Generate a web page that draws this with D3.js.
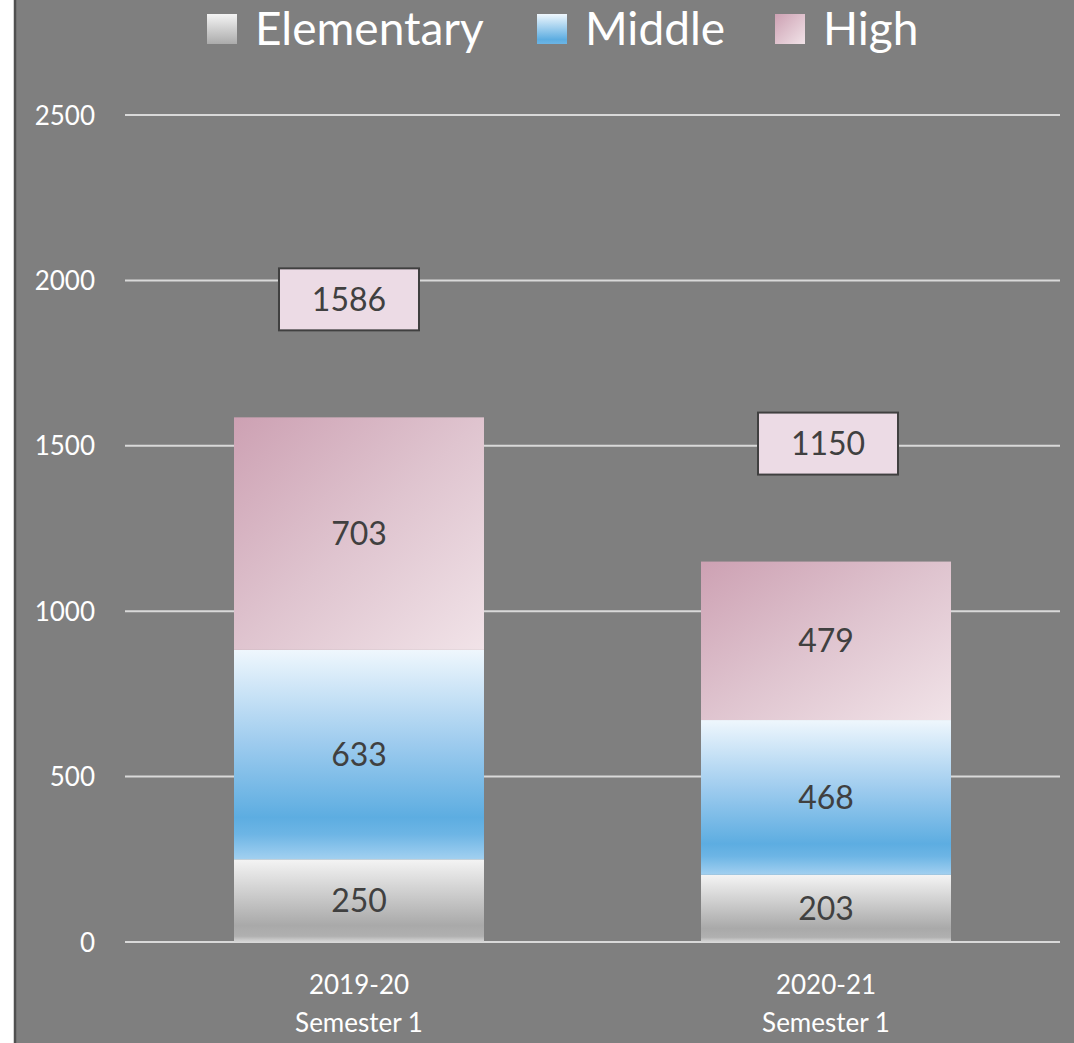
<!DOCTYPE html>
<html><head><meta charset="utf-8">
<script src="https://cdn.jsdelivr.net/npm/d3@7/dist/d3.min.js"></script>
<style>html,body{margin:0;padding:0;background:#fff;}svg{display:block;}</style>
</head><body>
<script>
const categories = [["2019-20","Semester 1"],["2020-21","Semester 1"]];
const seriesNames = ["Elementary","Middle","High"];
const elementary = [250, 203];
const middle = [633, 468];
const high = [703, 479];
const totals = [1586, 1150];
const yTicks = [0, 500, 1000, 1500, 2000, 2500];

const W = 1074, H = 1043;
const svg = d3.select("body").append("svg").attr("width", W).attr("height", H);
const font = "Lato, 'Open Sans', sans-serif";

// background
svg.append("rect").attr("x", 14).attr("y", 0).attr("width", W - 14).attr("height", H).attr("fill", "#7f7f7f");
svg.append("line").attr("x1", 15).attr("x2", 15).attr("y1", 0).attr("y2", H).attr("stroke", "#505050").attr("stroke-width", 2.5);

const defs = svg.append("defs");
const gE = defs.append("linearGradient").attr("id", "gElem").attr("x1", 0).attr("y1", 0).attr("x2", 0).attr("y2", 1);
[[0, "#f4f4f4"], [0.8, "#a9a9a9"], [0.93, "#b0b0b0"], [1, "#d8d8d8"]].forEach(s => gE.append("stop").attr("offset", s[0]).attr("stop-color", s[1]));
const gM = defs.append("linearGradient").attr("id", "gMid").attr("x1", 0).attr("y1", 0).attr("x2", 0).attr("y2", 1);
[[0, "#eff7fd"], [0.45, "#9dcbee"], [0.8, "#5dade1"], [0.88, "#6db5e5"], [1, "#a2d0f0"]].forEach(s => gM.append("stop").attr("offset", s[0]).attr("stop-color", s[1]));
const gH = defs.append("linearGradient").attr("id", "gHigh").attr("x1", 0).attr("y1", 0).attr("x2", 1).attr("y2", 1);
[[0, "#cda1b3"], [0.5, "#dfc4cf"], [1, "#f1e3e8"]].forEach(s => gH.append("stop").attr("offset", s[0]).attr("stop-color", s[1]));
const fills = ["url(#gElem)", "url(#gMid)", "url(#gHigh)"];
const swatchIds = ["sElem", "sMid", "sHigh"];
const sE = defs.append("linearGradient").attr("id", "sElem").attr("x1", 0).attr("y1", 0).attr("x2", 0).attr("y2", 1);
[[0, "#f4f4f4"], [1, "#ababab"]].forEach(s => sE.append("stop").attr("offset", s[0]).attr("stop-color", s[1]));
const sM = defs.append("linearGradient").attr("id", "sMid").attr("x1", 0).attr("y1", 0).attr("x2", 0).attr("y2", 1);
[[0, "#eff7fd"], [0.85, "#5dade1"], [1, "#6db5e5"]].forEach(s => sM.append("stop").attr("offset", s[0]).attr("stop-color", s[1]));
const sH = defs.append("linearGradient").attr("id", "sHigh").attr("x1", 0).attr("y1", 0).attr("x2", 1).attr("y2", 1);
[[0, "#cda1b3"], [1, "#f1e3e8"]].forEach(s => sH.append("stop").attr("offset", s[0]).attr("stop-color", s[1]));

const x0 = 125, x1 = 1060;
const y = d3.scaleLinear().domain([0, 2500]).range([942, 115]);
const xb = d3.scaleBand().domain(categories.map(c => c.join(" "))).range([x0, x1])
  .paddingInner(0.4647).paddingOuter(0.2334);

// gridlines
svg.append("g").selectAll("line").data(yTicks).join("line")
  .attr("x1", x0).attr("x2", x1).attr("y1", d => y(d)).attr("y2", d => y(d))
  .attr("stroke", "#d9d9d9").attr("stroke-width", 2);

// y axis labels
const yAxis = d3.axisLeft(y).tickValues(yTicks).tickFormat(d3.format("d")).tickSize(0).tickPadding(0);
const ya = svg.append("g").attr("transform", "translate(95,0)").call(yAxis);
ya.select(".domain").remove();
ya.selectAll("text").attr("fill", "#ffffff").style("font-family", font).style("font-size", "26px").attr("dy", "0.35em");

// stacked data
const table = categories.map((c, i) => ({ key: c.join(" "), Elementary: elementary[i], Middle: middle[i], High: high[i] }));
const stack = d3.stack().keys(seriesNames)(table);

stack.forEach((layer, si) => {
  const g = svg.append("g");
  g.selectAll("rect").data(layer).join("rect")
    .attr("x", d => xb(d.data.key)).attr("width", xb.bandwidth())
    .attr("y", d => y(d[1])).attr("height", d => y(d[0]) - y(d[1]))
    .attr("fill", fills[si]);
  g.selectAll("text").data(layer).join("text")
    .attr("x", d => xb(d.data.key) + xb.bandwidth() / 2)
    .attr("y", d => (y(d[0]) + y(d[1])) / 2)
    .attr("dy", "0.35em").attr("text-anchor", "middle")
    .attr("fill", "#404040").style("font-family", font).style("font-size", "32px")
    .text(d => d[1] - d[0]);
});

// total labels
const tg = svg.append("g");
table.forEach((d, i) => {
  const cx = xb(d.key) + xb.bandwidth() / 2 - 10 + i * 12;
  const cy = y(totals[i]) - 118;
  tg.append("rect").attr("x", cx - 70).attr("y", cy - 31).attr("width", 140).attr("height", 62)
    .attr("fill", "#ecdbe5").attr("stroke", "#404040").attr("stroke-width", 2);
  tg.append("text").attr("x", cx).attr("y", cy).attr("dy", "0.35em").attr("text-anchor", "middle")
    .attr("fill", "#404040").style("font-family", font).style("font-size", "32px").text(totals[i]);
});

// x labels
const xg = svg.append("g");
table.forEach((d, i) => {
  const cx = xb(d.key) + xb.bandwidth() / 2;
  categories[i].forEach((line, li) => {
    xg.append("text").attr("x", cx).attr("y", 994 + li * 38).attr("text-anchor", "middle")
      .attr("fill", "#ffffff").style("font-family", font).style("font-size", "26px").text(line);
  });
});

// legend
const legendPos = [[207, 255], [537, 585], [775, 823]];
const lg = svg.append("g");
seriesNames.forEach((n, i) => {
  lg.append("rect").attr("x", legendPos[i][0]).attr("y", 14).attr("width", 30).attr("height", 30).attr("fill", "url(#" + swatchIds[i] + ")");
  lg.append("text").attr("x", legendPos[i][1]).attr("y", 45).attr("fill", "#ffffff")
    .style("font-family", font).style("font-size", "46px").text(n);
});
</script>
</body></html>
